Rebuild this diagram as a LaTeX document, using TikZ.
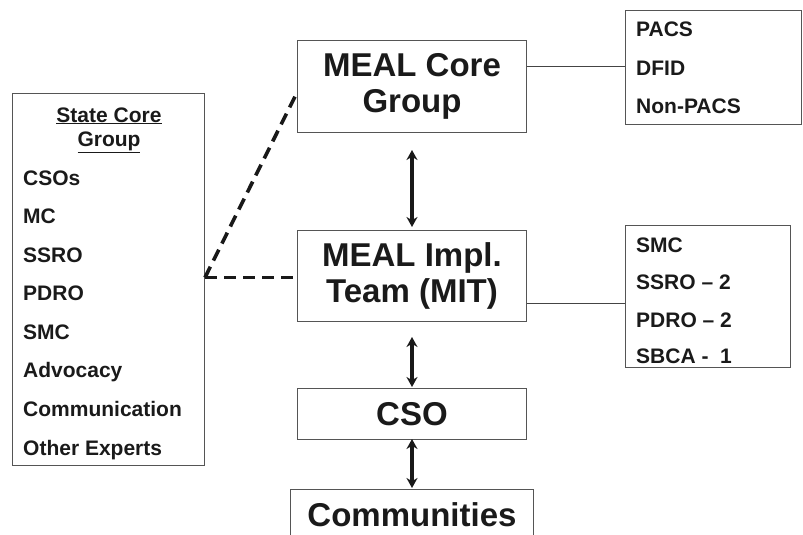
\documentclass[tikz,border=0pt]{standalone}
\usepackage{fontspec}
\setmainfont{Liberation Sans}
\usetikzlibrary{arrows.meta}
\definecolor{txt}{HTML}{1A1A1A}
\definecolor{edge}{HTML}{555555}
\definecolor{conn}{HTML}{444444}
\begin{document}
\begin{tikzpicture}[x=1pt,y=-1pt,
  box/.style={draw=edge,line width=1pt,rectangle,inner sep=0pt,anchor=north west},
  big/.style={font=\fontsize{33}{36}\selectfont\bfseries,text=txt,align=center},
  item/.style={font=\fontsize{21}{24}\selectfont\bfseries,text=txt,anchor=base west,inner sep=0pt},
  head/.style={font=\fontsize{21}{24}\selectfont\bfseries,text=txt,anchor=base,inner sep=0pt},
  connline/.style={draw=conn,line width=1pt},
  dashline/.style={draw=black!90,line width=3.6pt,dash pattern=on 12pt off 7pt},
  biarrow/.style={draw=black!90,line width=3.6pt,{Stealth[length=10pt,width=11pt]}-{Stealth[length=10pt,width=11pt]}}
]
\useasboundingbox (0,0) rectangle (803,535);
\clip (0,0) rectangle (803,535);

% main boxes
\node[box,big,minimum width=229pt,minimum height=92pt] (core) at (297,40) {MEAL Core\\Group};
\node[box,big,minimum width=229pt,minimum height=91pt] (mit) at (297,230) {MEAL Impl.\\Team (MIT)};
\node[box,big,minimum width=229pt,minimum height=51pt] (cso) at (297,388) {CSO};
\node[box,big,minimum width=243pt,minimum height=50pt] (comm) at (290,489) {Communities};

% left list box
\node[box,minimum width=192pt,minimum height=372pt] (sbox) at (12,93) {};
\node[head] (h1) at (109,122) {\underline{State Core}};
\node[head] (h2) at (109,146) {\underline{Group}};
\node[item] (l1) at (23,185) {CSOs};
\node[item] (l2) at (23,223.6) {MC};
\node[item] (l3) at (23,262.1) {SSRO};
\node[item] (l4) at (23,300.7) {PDRO};
\node[item] (l5) at (23,339.3) {SMC};
\node[item] (l6) at (23,377.9) {Advocacy};
\node[item] (l7) at (23,416.4) {Communication};
\node[item] (l8) at (23,455) {Other Experts};

% top right box
\node[box,minimum width=176pt,minimum height=114pt] (rbox1) at (625,10) {};
\node[item] (r1) at (636,37) {PACS};
\node[item] (r2) at (636,75) {DFID};
\node[item] (r3) at (636,113) {Non-PACS};

% middle right box
\node[box,minimum width=165pt,minimum height=142pt] (rbox2) at (625,225) {};
\node[item] (m1) at (636,252) {SMC};
\node[item] (m2) at (636,289.5) {SSRO – 2};
\node[item] (m3) at (636,327) {PDRO – 2};
\node[item] (m4) at (636,363) {SBCA -\ \ 1};

% connectors
\draw[connline] ([yshift=20pt]core.east) -- ([yshift=20pt]core.east -| rbox1.west);
\draw[connline] ([yshift=-27.5pt]mit.east) -- ([yshift=-27.5pt]mit.east -| rbox2.west);
\draw[dashline] ([yshift=2pt]sbox.east) -- ([yshift=-6pt]core.west);
\draw[dashline] ([yshift=2pt]sbox.east) -- ([yshift=2pt]sbox.east -| mit.west);
\draw[biarrow] ([yshift=-17pt]core.south) -- ([yshift=3pt]mit.north);
\draw[biarrow] ([yshift=-15pt]mit.south) -- ([yshift=1pt]cso.north);
\draw[biarrow] ([yshift=1pt]cso.south) -- ([yshift=1pt]comm.north);
\end{tikzpicture}
\end{document}
